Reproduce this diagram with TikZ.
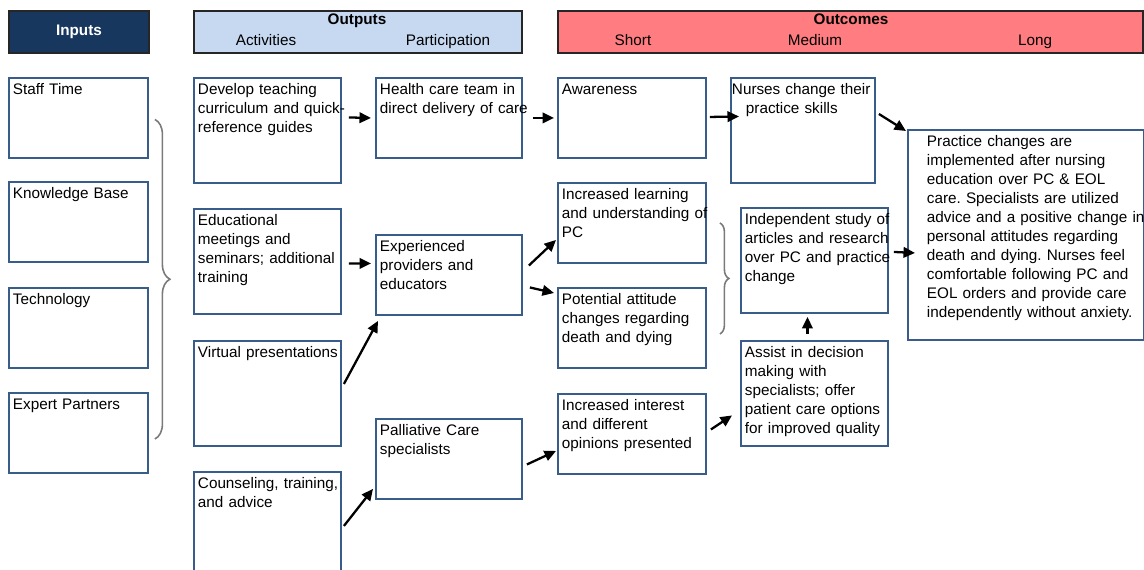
\documentclass[tikz,border=0pt]{standalone}
\usepackage{fontspec}
\setmainfont{Liberation Sans}
\usetikzlibrary{arrows.meta,calc,decorations.pathreplacing}
\definecolor{navy}{HTML}{17375E}
\definecolor{outblue}{HTML}{C6D9F1}
\definecolor{outred}{HTML}{FF7C80}
\definecolor{edge}{HTML}{385D8A}
\definecolor{brgrey}{HTML}{7A7A7A}
\frenchspacing

\begin{document}
\begin{tikzpicture}[x=0.02cm,y=-0.02cm,
              font={\fontsize{8.7}{10.8}\selectfont},
              box/.style={draw=edge,line width=1.1pt,anchor=north west,align=left,
                inner xsep=0.08cm,inner ysep=0.07cm,text height=0.27cm,text width=#1,
                execute at begin node={\rightskip=-2cm plus 1fil\relax}},
              lo/.style={text depth=1.19cm},
              hi/.style={text depth=1.69cm},
              hdr/.style={draw=black!85,line width=1.1pt,anchor=north west,
                minimum height=0.84cm,inner sep=0},
              ttl/.style={inner sep=0,anchor=base,font={\fontsize{8.7}{10.8}\selectfont\bfseries}},
              subhd/.style={inner sep=0,anchor=base},
              arr/.style={line width=1.3pt,-{Triangle[length=2.3mm,width=2.1mm]}},
              brc/.style={draw=brgrey,line width=0.9pt,decorate,
                decoration={brace,amplitude=#1}}]
              \useasboundingbox (0,0) rectangle (1144,569);
              \node[hdr,fill=navy,minimum width=2.8cm,text=white,
                font={\fontsize{8.7}{10.8}\selectfont\bfseries}] (hin) at (8,10) {Inputs};
              \node[hdr,fill=outblue,minimum width=6.56cm] (hout) at (193,10) {};
              \node[hdr,fill=outred,minimum width=11.7cm] (hoc) at (557,10) {};
              \node[ttl] (tout) at (357,24) {Outputs};
              \node[subhd] (tact) at (266,45) {Activities};
              \node[subhd] (tpar) at (448,45) {Participation};
              \node[ttl] (toc) at (851,24) {Outcomes};
              \node[subhd] (tsho) at (633,45) {Short};
              \node[subhd] (tmed) at (815,45) {Medium};
              \node[subhd] (tlng) at (1035,45) {Long};
              \node[box=2.62cm,lo] (stf) at (8,77) {Staff Time};
              \node[box=2.62cm,lo] (knw) at (8,181) {Knowledge Base};
              \node[box=2.62cm,lo] (tec) at (8,287) {Technology};
              \node[box=2.62cm,lo] (xpt) at (8,392) {Expert Partners};
              \node[box=2.78cm,hi] (dev) at (193,77) {Develop teaching\\curriculum and quick-\\reference guides};
              \node[box=2.78cm,hi] (edu) at (193,208) {Educational\\meetings and\\seminars; additional\\training};
              \node[box=2.78cm,hi] (vir) at (193,340) {Virtual presentations};
              \node[box=2.78cm,hi] (cou) at (193,471) {Counseling, training,\\and advice};
              \node[box=2.76cm,lo] (hct) at (375,77) {Health care team in\\direct delivery of care};
              \node[box=2.76cm,lo] (prov) at (375,234) {Experienced\\providers and\\educators};
              \node[box=2.76cm,lo] (pal) at (375,418) {Palliative Care\\specialists};
              \node[box=2.8cm,lo] (awa) at (557,77) {Awareness};
              \node[box=2.8cm,lo] (lrn) at (557,182) {Increased learning\\and understanding of\\PC};
              \node[box=2.8cm,lo] (att) at (557,287) {Potential attitude\\changes regarding\\death and dying};
              \node[box=2.8cm,lo] (itr) at (557,393) {Increased interest\\and different\\opinions presented};
              \node[box=2.84cm,hi,inner xsep=0.02cm] (nur) at (730,77) {Nurses change their\\\hspace*{0.28cm}practice skills};
              \node[box=2.78cm,hi] (ind) at (740,207) {Independent study of\\articles and research\\over PC and practice\\change};
              \node[box=2.78cm,hi] (asi) at (740,340) {Assist in decision\\making with\\specialists; offer\\patient care options\\for improved quality};
              \node[box=3.96cm,inner xsep=0.38cm,text depth=3.79cm] (lng) at (907,129) {Practice changes are\\implemented after nursing\\education over PC \& EOL\\care. Specialists are utilized\\advice and a positive change in\\personal attitudes regarding\\death and dying. Nurses feel\\comfortable following PC and\\EOL orders and provide care\\independently without anxiety.};
              \draw[brc=0.3cm] ($(stf.east)+(6,1.5)$) -- ($(xpt.east)+(6,6)$);
              \draw[brc=0.18cm] ($(lrn.east)+(13,0)$) -- ($(att.east)+(13,6)$);
              \draw[arr] ($(dev.east)+(7,-13)$) -- ($(hct.west)+(-4,0)$);
              \draw[arr] ($(edu.east)+(7,2)$) -- ($(prov.west)+(-4,-11.5)$);
              \draw[arr] ($(hct.east)+(10,0)$) -- ($(awa.west)+(-3,0)$);
              \draw[arr] ($(awa.east)+(3,-1)$) -- ($(nur.west)+(9,-14)$);
              \draw[arr] ($(prov.east)+(6,-9.5)$) -- ($(lrn.west)+(-1,17)$);
              \draw[arr] ($(prov.east)+(7,12.5)$) -- ($(att.north west)+(-3,6)$);
              \draw[arr] ($(vir.east)+(2,-9.5)$) -- ($(prov.south west)+(3,5)$);
              \draw[arr] ($(cou.east)+(2,1.5)$) -- ($(pal.south west)+(-2,-11)$);
              \draw[arr] ($(pal.east)+(4,5.5)$) -- ($(itr.west)+(-1,17)$);
              \draw[arr] ($(itr.east)+(4,-4.5)$) -- ($(asi.west)+(-8,22)$);
              \draw[arr] ($(asi.north)+(-7,-6)$) -- ($(ind.south)+(-7,3)$);
              \draw[arr] ($(ind.east)+(5,-8.5)$) -- ($(lng.west)+(8,18)$);
              \draw[arr] ($(nur.east)+(3,-16.5)$) -- ($(lng.north west)+(-1,2)$);
            \end{tikzpicture}
\end{document}
